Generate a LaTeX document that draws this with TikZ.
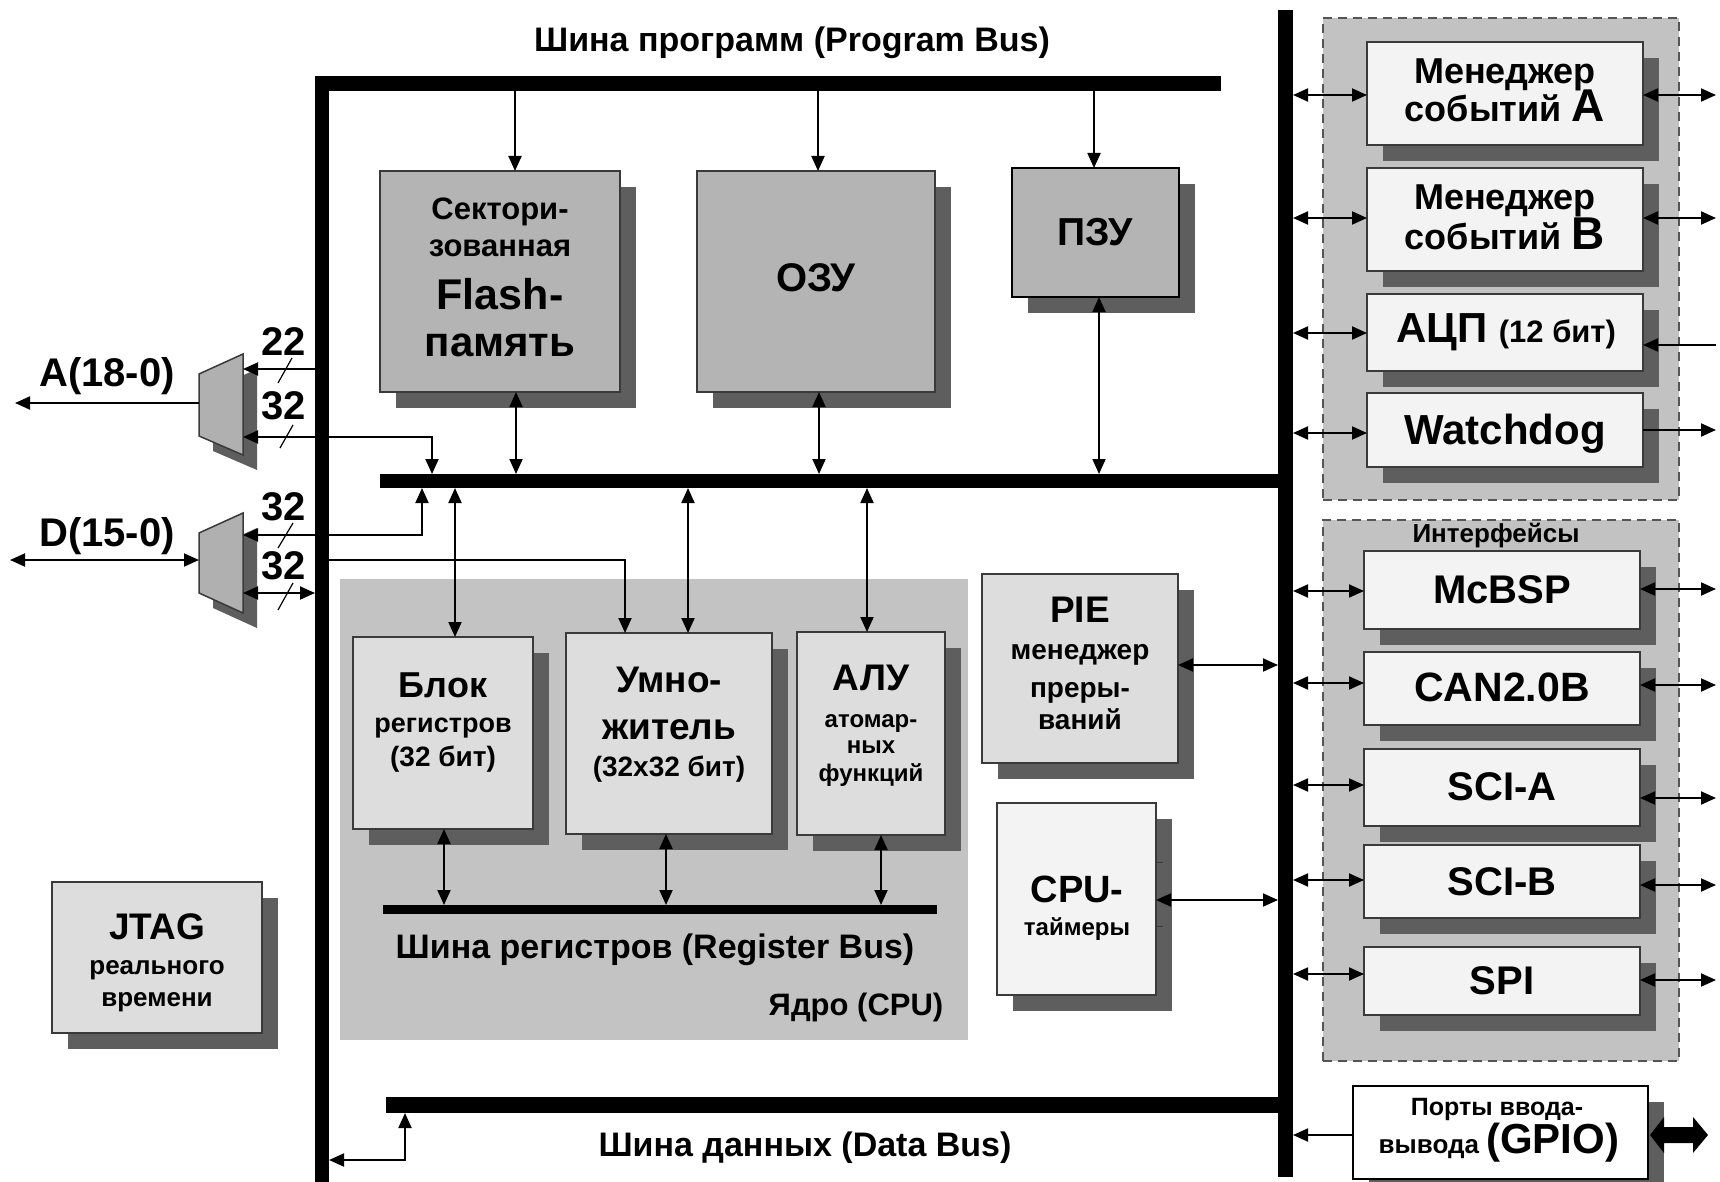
\documentclass[tikz,border=0pt]{standalone}
\usepackage{fontspec}
\setmainfont{Liberation Sans}
\usetikzlibrary{arrows.meta,shadows}
\definecolor{memfill}{HTML}{B4B4B4}
\definecolor{corebg}{HTML}{C3C3C3}
\definecolor{lightbox}{HTML}{DDDDDD}
\definecolor{paleb}{HTML}{F3F3F3}
\definecolor{grpbg}{HTML}{C2C2C2}
\definecolor{shadowc}{HTML}{5E5E5E}
\definecolor{edgec}{HTML}{3A3A3A}
\definecolor{dashc}{HTML}{555555}
\definecolor{muxfill}{HTML}{B0B0B0}
\newcommand\mkbox[6]{\node[#1,minimum width={(#4)-(#2)},minimum height={(#5)-(#3)}] (#6) at ({((#2)+(#4))/2},{((#3)+(#5))/2}) {};}
\tikzset{
  every node/.style={inner sep=0pt,outer sep=0pt},
  shd/.style={drop shadow={shadow xshift=16pt,shadow yshift=-16pt,fill=shadowc,opacity=1}},
  membox/.style={rectangle,draw=edgec,line width=1.5pt,fill=memfill,shd},
  romb/.style={rectangle,draw=black,line width=2.5pt,fill=memfill,shd},
  cbox/.style={rectangle,draw=edgec,line width=1.5pt,fill=lightbox,shd},
  pbox/.style={rectangle,draw=edgec,line width=1.5pt,fill=paleb,shd},
  gpiob/.style={rectangle,draw=black,line width=2.5pt,fill=white,shd},
  corebox/.style={rectangle,fill=corebg,draw=none},
  grp/.style={rectangle,fill=grpbg,draw=dashc,line width=2.2pt,dash pattern=on 9pt off 6pt},
  bus/.style={rectangle,fill=black,draw=none},
  tl/.style={anchor=base,inner sep=0pt,font=\bfseries\fontsize{#1}{#1}\selectfont},
  ar/.style={-{Triangle[length=15pt,width=13pt]},line width=1.9pt},
  dar/.style={{Triangle[length=15pt,width=13pt]}-{Triangle[length=15pt,width=13pt]},line width=1.9pt},
  slash/.style={line width=1.2pt}
}
\begin{document}
\begin{tikzpicture}[x=1pt,y=-1pt]
\useasboundingbox (0,0) rectangle (1720,1182);
\fill[white] (0,0) rectangle (1720,1182);

% backgrounds
\mkbox{corebox}{340}{579}{968}{1040}{core}
\mkbox{grp}{1323}{18}{1679}{500}{grpA}
\mkbox{grp}{1323}{520}{1679}{1061}{grpB}

% memory blocks
\mkbox{membox}{380}{171}{620}{392}{flash}
\mkbox{membox}{697}{171}{935}{392}{ozu}
\mkbox{romb}{1012}{168}{1179}{297}{pzu}

% core blocks
\mkbox{cbox}{353}{637}{533}{829}{blok}
\mkbox{cbox}{566}{633}{772}{834}{umno}
\mkbox{cbox}{797}{632}{945}{835}{alu}
\mkbox{cbox}{982}{574}{1178}{763}{pie}
\mkbox{pbox}{997}{803}{1156}{995}{cpu}
\mkbox{cbox}{52}{882}{262}{1033}{jtag}

% peripherals
\mkbox{pbox}{1367}{42}{1643}{145}{evA}
\mkbox{pbox}{1367}{168}{1643}{271}{evB}
\mkbox{pbox}{1367}{294}{1643}{371}{adc}
\mkbox{pbox}{1367}{393}{1643}{467}{wd}
\mkbox{pbox}{1364}{551}{1640}{629}{mcbsp}
\mkbox{pbox}{1364}{652}{1640}{725}{can}
\mkbox{pbox}{1364}{749}{1640}{826}{scia}
\mkbox{pbox}{1364}{845}{1640}{918}{scib}
\mkbox{pbox}{1364}{947}{1640}{1015}{spi}
\mkbox{gpiob}{1353}{1086}{1648}{1179}{gpio}

% buses
\mkbox{bus}{315}{76}{329}{1190}{lvbus}
\mkbox{bus}{315}{76}{1221}{91}{pbus}
\mkbox{bus}{1278}{10}{1293}{1177}{rvbus}
\mkbox{bus}{380}{474}{1280}{488}{ibus}
\mkbox{bus}{386}{1097}{1280}{1113}{dbus}
\mkbox{bus}{383}{905}{937}{914}{rbus}

% multiplexers
\fill[shadowc] (213,389) -- (257,369) -- (257,470) -- (213,451) -- cycle;
\draw[edgec,line width=1.5pt,fill=muxfill] (199,374) -- (243,354) -- (243,455) -- (199,436) -- cycle;
\fill[shadowc] (213,548) -- (257,528) -- (257,628) -- (213,608) -- cycle;
\draw[edgec,line width=1.5pt,fill=muxfill] (199,533) -- (243,513) -- (243,613) -- (199,593) -- cycle;
\coordinate (mAl) at (199,0);
\coordinate (mAr) at (243,0);

% program bus arrows
\coordinate (x1) at (515,0);
\coordinate (x2) at (818,0);
\coordinate (x3) at (1094,0);
\draw[ar] (pbus.south -| x1) -- (flash.north -| x1);
\draw[ar] (pbus.south -| x2) -- (ozu.north -| x2);
\draw[ar] (pbus.south -| x3) -- (pzu.north -| x3);

% internal bus arrows
\coordinate (x4) at (516,0);
\coordinate (x5) at (819,0);
\coordinate (x6) at (1099,0);
\coordinate (x7) at (455,0);
\coordinate (x8) at (688,0);
\coordinate (x9) at (867,0);
\draw[dar] (flash.south -| x4) -- (ibus.north -| x4);
\draw[dar] (ozu.south -| x5) -- (ibus.north -| x5);
\draw[dar] (pzu.south -| x6) -- (ibus.north -| x6);
\draw[dar] (ibus.south -| x7) -- (blok.north -| x7);
\draw[dar] (ibus.south -| x8) -- (umno.north -| x8);
\draw[dar] (ibus.south -| x9) -- (alu.north -| x9);

% register bus arrows
\coordinate (x10) at (444,0);
\coordinate (x11) at (666,0);
\coordinate (x12) at (881,0);
\draw[dar] (blok.south -| x10) -- (rbus.north -| x10);
\draw[dar] (umno.south -| x11) -- (rbus.north -| x11);
\draw[dar] (alu.south -| x12) -- (rbus.north -| x12);

% PIE and timers
\coordinate (y1) at (0,665);
\coordinate (y2) at (0,900);
\draw[dar] (pie.east |- y1) -- (rvbus.west |- y1);
\draw[dar] (cpu.east |- y2) -- (rvbus.west |- y2);
\draw[edgec,line width=1pt] (1155,862) -- (1163,862);
\draw[edgec,line width=1pt] (1155,926) -- (1163,926);

% peripherals
\coordinate (redge) at (1716,0);
\foreach \yy/\bb in {95/evA,218/evB,333/adc,433/wd,591/mcbsp,683/can,785/scia,880/scib,974/spi}{
  \coordinate (pl) at (0,\yy);
  \draw[dar] (rvbus.east |- pl) -- (\bb.west |- pl);
}
\foreach \yy/\bb in {95/evA,218/evB,589/mcbsp,685/can,798/scia,885/scib,980/spi}{
  \coordinate (pr) at (0,\yy);
  \draw[dar] (\bb.east |- pr) -- (redge |- pr);
}
\coordinate (adcr) at (0,345);
\draw[ar] (redge |- adcr) -- (adc.east |- adcr);
\coordinate (wdr) at (0,430);
\draw[ar] (wd.east |- wdr) -- (redge |- wdr);
\coordinate (gpy) at (0,1135);
\draw[ar] (gpio.west |- gpy) -- (rvbus.east |- gpy);
\fill[black] (1650,1135) -- (1664,1117) -- (1664,1127) -- (1693,1127) -- (1693,1117) -- (1708,1135) -- (1693,1153) -- (1693,1143) -- (1664,1143) -- (1664,1153) -- cycle;

% left side connections
\coordinate (r22) at (243,369);
\draw[ar] (lvbus.west |- r22) -- (r22);
\coordinate (r32a) at (243,437);
\coordinate (k1) at (432,437);
\draw[dar] (ibus.north -| k1) -- (k1) -- (r32a);
\coordinate (r32d) at (243,535);
\coordinate (k2) at (422,535);
\draw[dar] (ibus.south -| k2) -- (k2) -- (r32d);
\coordinate (r32e) at (243,593);
\draw[dar] (lvbus.west |- r32e) -- (r32e);
\coordinate (k3) at (625,560);
\draw[ar] (lvbus.east |- k3) -- (k3) -- (umno.north -| k3);
\coordinate (aout) at (15,403);
\draw[ar] (mAl |- aout) -- (aout);
\coordinate (dout) at (10,560);
\draw[dar] (dout) -- (mAl |- dout);
\coordinate (k4) at (405,1160);
\draw[dar] (dbus.south -| k4) -- (k4) -- (lvbus.east |- k4);

% bus width slashes
\draw[slash] (278,383) -- (292,358);
\draw[slash] (280,448) -- (293,425);
\draw[slash] (278,548) -- (293,523);
\draw[slash] (278,610) -- (293,583);

% texts
\node[tl=34] (ttl) at (792,52) {Шина программ (Program Bus)};
\node[tl=31] (fl1) at (500,220) {Сектори-};
\node[tl=31] (fl2) at (500,257) {зованная};
\node[tl=43] (fl3) at (500,309) {Flash-};
\node[tl=42] (fl4) at (500,356) {память};
\node[tl=40] (ozut) at (816,291) {ОЗУ};
\node[tl=39] (pzut) at (1095,246) {ПЗУ};
\node[tl=36] (bl1) at (443,697) {Блок};
\node[tl=27] (bl2) at (443,732) {регистров};
\node[tl=28] (bl3) at (443,766) {(32 бит)};
\node[tl=37] (um1) at (669,692) {Умно-};
\node[tl=37] (um2) at (669,739) {житель};
\node[tl=28] (um3) at (669,776) {(32x32 бит)};
\node[tl=37] (al1) at (871,690) {АЛУ};
\node[tl=24] (al2) at (871,727) {атомар-};
\node[tl=24] (al3) at (871,753) {ных};
\node[tl=24] (al4) at (871,781) {функций};
\node[tl=34] (rbt) at (655,958) {Шина регистров (Register Bus)};
\node[tl=31] (cput) at (856,1015) {Ядро (CPU)};
\node[tl=37] (pi1) at (1080,622) {PIE};
\node[tl=28] (pi2) at (1080,659) {менеджер};
\node[tl=28] (pi3) at (1080,697) {преры-};
\node[tl=28] (pi4) at (1080,729) {ваний};
\node[tl=38] (ct1) at (1077,902) {CPU-};
\node[tl=24] (ct2) at (1077,935) {таймеры};
\node[tl=37] (jt1) at (157,939) {JTAG};
\node[tl=26] (jt2) at (157,974) {реального};
\node[tl=26] (jt3) at (157,1006) {времени};
\node[tl=40] (la) at (107,386) {A(18-0)};
\node[tl=40] (ld) at (107,546) {D(15-0)};
\node[tl=40] (n22) at (284,355) {22};
\node[tl=40] (n32a) at (284,419) {32};
\node[tl=40] (n32b) at (284,520) {32};
\node[tl=40] (n32c) at (284,579) {32};
\node[tl=34] (dbt) at (805,1156) {Шина данных (Data Bus)};
\node[tl=36] (ea1) at (1505,84) {Менеджер};
\node[tl=36] (ea2) at (1505,122) {событий {\fontsize{46}{46}\selectfont А}};
\node[tl=36] (eb1) at (1505,210) {Менеджер};
\node[tl=36] (eb2) at (1505,250) {событий {\fontsize{46}{46}\selectfont В}};
\node[tl=42] (adct) at (1506,342) {АЦП {\fontsize{31}{31}\selectfont (12 бит)}};
\node[tl=42] (wdt) at (1505,444) {Watchdog};
\node[tl=26] (ift) at (1496,542) {Интерфейсы};
\node[tl=40] (t1) at (1502,603) {McBSP};
\node[tl=41] (t2) at (1502,701) {CAN2.0B};
\node[tl=40] (t3) at (1502,800) {SCI-A};
\node[tl=40] (t4) at (1502,895) {SCI-B};
\node[tl=40] (t5) at (1502,994) {SPI};
\node[tl=25] (gp1) at (1497,1115) {Порты ввода-};
\node[tl=26] (gp2) at (1499,1153) {вывода {\fontsize{42}{42}\selectfont (GPIO)}};
\end{tikzpicture}
\end{document}
